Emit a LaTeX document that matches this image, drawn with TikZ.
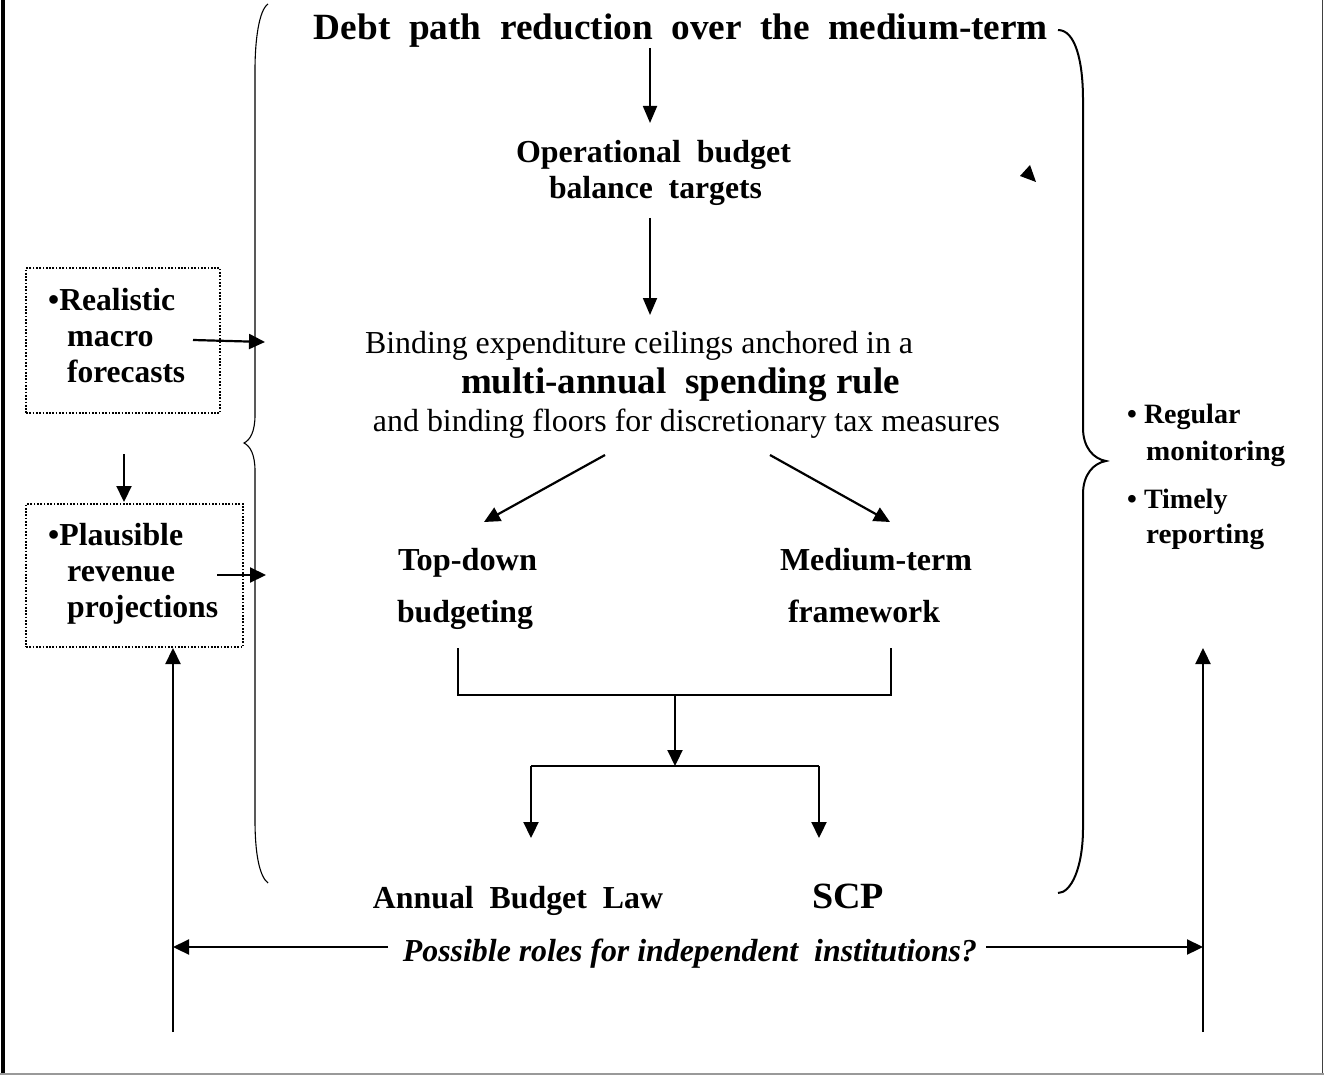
\documentclass[tikz,border=0pt]{standalone}
\usepackage{fontspec}
\setmainfont{Liberation Serif}
\usepackage{graphicx}
\usetikzlibrary{arrows.meta}
\newcommand\fitw[2]{\resizebox{#1}{\height}{#2}}
\begin{document}
\begin{tikzpicture}[x=1pt,y=-1pt,
  txt/.style={inner sep=0pt, anchor=base, font=\fontsize{32}{36}\selectfont\bfseries},
  big/.style={txt, font=\fontsize{37}{42}\selectfont\bfseries},
  reg/.style={txt, font=\fontsize{32}{36}\selectfont},
  ita/.style={txt, font=\fontsize{32}{36}\selectfont\bfseries\itshape},
  lft/.style={txt, anchor=base west},
  sml/.style={inner sep=0pt, anchor=base west, font=\fontsize{28}{32}\selectfont\bfseries},
  arr/.style={-{Triangle[length=16pt,width=15pt]}, line width=2.2pt},
  tarr/.style={-{Triangle[length=17pt,width=14pt]}, line width=1.8pt},
  lnk/.style={line width=1.6pt},
  brc/.style={line width=1.1pt},
  brcr/.style={line width=2pt},
  dotbox/.style={draw, line width=1.7pt, dash pattern=on 1.7pt off 1.6pt, inner sep=0pt}
]
\useasboundingbox (0,0) rectangle (1324,1075);
\fill[white] (0,0) rectangle (1324,1075);
% frame
\draw[line width=4pt] (3,0) -- (3,1075);
\draw[line width=1.5pt, black!75] (1322.5,0) -- (1322.5,1075);
\draw[line width=1.5pt, black!40] (0,1074) -- (1324,1074);

% texts
\node[big] (title) at (681,40) {\fitw{734pt}{Debt\ \ path\ \ reduction\ \ over\ \ the\ \ medium-term}};
\node[txt] (op1) at (653.5,163) {\fitw{275pt}{Operational\ \ budget}};
\node[txt] (op2) at (655.5,199) {\fitw{213pt}{balance\ \ targets}};
\node[reg] (b1) at (639,353) {\fitw{548pt}{Binding expenditure ceilings anchored in a}};
\node[big] (b2) at (680.5,393) {\fitw{439pt}{multi-annual\ \ spending rule}};
\node[reg] (b3) at (686.5,431) {\fitw{627pt}{and binding floors for discretionary tax measures}};
\node[txt] (td1) at (467.5,570) {\fitw{139pt}{Top-down}};
\node[txt] (td2) at (465,622) {\fitw{136pt}{budgeting}};
\node[txt] (mt1) at (876,570) {\fitw{192pt}{Medium-term}};
\node[txt] (mt2) at (864,622) {\fitw{152pt}{framework}};
\node[txt] (abl) at (518,908) {\fitw{290pt}{Annual\ \ Budget\ \ Law}};
\node[big] (scp) at (848,908) {\fitw{72pt}{SCP}};
\node[ita] (roles) at (690,961) {\fitw{574pt}{Possible roles for independent\ \ institutions?}};

% left boxes
\node[dotbox, minimum width=194pt, minimum height=145pt] (box1) at (123,340.5) {};
\node[dotbox, minimum width=217pt, minimum height=143pt] (box2) at (134.5,575.5) {};
\node[lft] (r1) at (48,310) {\fitw{127pt}{•Realistic}};
\node[lft] (r2) at (67,346) {macro};
\node[lft] (r3) at (67,382) {\fitw{118pt}{forecasts}};
\node[lft] (p1) at (48,545) {\fitw{135pt}{•Plausible}};
\node[lft] (p2) at (67,581) {\fitw{108pt}{revenue}};
\node[lft] (p3) at (67,617) {\fitw{151pt}{projections}};

% right texts
\node[sml] (m1) at (1127,423) {• Regular};
\node[sml] (m2) at (1146,460) {\fitw{139pt}{monitoring}};
\node[sml] (m3) at (1127,508) {• Timely};
\node[sml] (m4) at (1146,543) {\fitw{118pt}{reporting}};

% coordinates
\coordinate (a1s) at (650,48);  \coordinate (a1e) at (650,123);
\coordinate (a2s) at (650,218); \coordinate (a2e) at (650,315);
\coordinate (a3s) at (605,455); \coordinate (a3e) at (484,522);
\coordinate (a4s) at (770,455); \coordinate (a4e) at (890,522);
\coordinate (kl) at (458,648); \coordinate (kr) at (891,648);
\coordinate (kml) at (458,695); \coordinate (kmr) at (891,695);
\coordinate (kc) at (675,695); \coordinate (kce) at (675,766);
\coordinate (sl) at (531,766); \coordinate (sr) at (819,766);
\coordinate (sle) at (531,838); \coordinate (sre) at (819,838);
\coordinate (f1s) at (193,340); \coordinate (f1e) at (265,342);
\coordinate (f2s) at (217,575); \coordinate (f2e) at (266,575);
\coordinate (f3s) at (124,454); \coordinate (f3e) at (124,502);
\coordinate (vlb) at (173,1032); \coordinate (vlt) at (173,648);
\coordinate (vrb) at (1203,1032); \coordinate (vrt) at (1203,648);
\coordinate (hl) at (173,947); \coordinate (hr) at (1203,947);
\coordinate (hls) at (388,947); \coordinate (hrs) at (986,947);

% connectors
\draw[tarr] (a1s) -- (a1e);
\draw[tarr] (a2s) -- (a2e);
\draw[arr] (a3s) -- (a3e);
\draw[arr] (a4s) -- (a4e);
\draw[lnk] (kl) -- (kml) -- (kmr) -- (kr);
\draw[arr] (kc) -- (kce);
\draw[lnk] (sl) -- (sr);
\draw[arr] (sl) -- (sle);
\draw[arr] (sr) -- (sre);
\draw[arr] (f1s) -- (f1e);
\draw[arr] (f2s) -- (f2e);
\draw[arr] (f3s) -- (f3e);
\draw[arr] (vlb) -- (vlt);
\draw[arr] (vrb) -- (vrt);
\draw[arr] (hls) -- (hl);
\draw[arr] (hrs) -- (hr);

% orphan arrow tip
\fill (1030,165) -- (1020,176) -- (1036,182) -- cycle;

% braces
\draw[brc] (268,4) .. controls (259,10) and (255,40) .. (255,70)
  -- (255,415) .. controls (255,432) and (250,440) .. (244,443)
  .. controls (250,446) and (255,454) .. (255,471)
  -- (255,820) .. controls (255,852) and (259,876) .. (268,883);
\draw[brcr] (1058,30) .. controls (1075,30) and (1083,60) .. (1083,100)
  -- (1083,428) .. controls (1083,448) and (1094,459) .. (1106,461)
  .. controls (1094,463) and (1083,474) .. (1083,494)
  -- (1083,828) .. controls (1083,868) and (1071,893) .. (1058,893);
\end{tikzpicture}
\end{document}
